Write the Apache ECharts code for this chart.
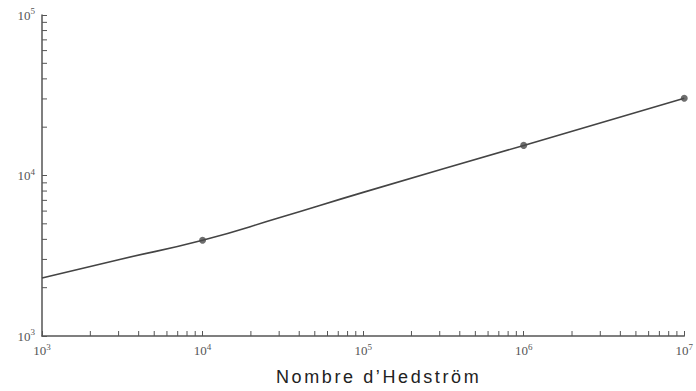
<!DOCTYPE html>
<html>
<head>
<meta charset="utf-8">
<script src="https://cdn.jsdelivr.net/npm/echarts@6/dist/echarts.min.js"></script>
<style>
  html, body { margin: 0; padding: 0; background: #fff; }
  #chart { width: 696px; height: 391px; }
</style>
</head>
<body>
<div id="chart"></div>
<script>
// Curve versus Hedström number (log-log)
const curveX = [1000, 3000, 10000, 30000, 100000, 1000000, 10000000];
const curveY = [2300, 2990, 3950, 5450, 7850, 15400, 30300];

// Marked points on the curve
const markX = [10000, 1000000, 10000000];
const markY = [3950, 15400, 30300];

// Decade exponents used for the axis labels
const xDecades = [3, 4, 5, 6, 7];
const yDecades = [3, 4, 5];

const axisTitle = 'Nombre d\u2019Hedstr\u00f6m';

// Intermediate (minor) tick positions inside each decade
const xMinor = [];
for (let d = xDecades[0]; d < xDecades[xDecades.length - 1]; d++) for (let m = 2; m <= 9; m++) xMinor.push(m * Math.pow(10, d));
const yMinor = [];
for (let d = yDecades[0]; d < yDecades[yDecades.length - 1]; d++) for (let m = 2; m <= 9; m++) yMinor.push(m * Math.pow(10, d));

const axisColor = '#555';
const labelRich = {
  b: { fontFamily: 'Liberation Serif', fontSize: 13, color: '#555' },
  s: { fontFamily: 'Liberation Serif', fontSize: 9, color: '#555', padding: [0, 0, 8, 0] }
};
function decadeLabel(v) {
  const e = Math.round(Math.log10(v));
  return '{b|10}{s|' + e + '}';
}

const chart = echarts.init(document.getElementById('chart'), null, { renderer: 'svg' });
chart.setOption({
  backgroundColor: '#fff',
  animation: false,
  grid: { left: 42, right: 7, top: 15, bottom: 55 },
  xAxis: {
    type: 'log', logBase: 10,
    min: Math.pow(10, xDecades[0]), max: Math.pow(10, xDecades[xDecades.length - 1]),
    name: axisTitle,
    nameLocation: 'middle', nameGap: 32,
    nameTextStyle: { fontFamily: 'Liberation Sans', fontSize: 18, color: '#222', padding: [0, 0, 0, 31] },
    axisLine: { lineStyle: { color: axisColor, width: 1.5 } },
    axisTick: { inside: true, length: 5, lineStyle: { color: axisColor, width: 1 } },
    axisLabel: { formatter: decadeLabel, rich: labelRich, margin: 6 },
    splitLine: { show: false }
  },
  yAxis: {
    type: 'log', logBase: 10,
    min: Math.pow(10, yDecades[0]), max: Math.pow(10, yDecades[yDecades.length - 1]),
    axisLine: { show: true, lineStyle: { color: axisColor, width: 1.5 } },
    axisTick: { show: true, inside: true, length: 5, lineStyle: { color: axisColor, width: 1 } },
    axisLabel: { formatter: decadeLabel, rich: labelRich, margin: 7 },
    splitLine: { show: false }
  },
  series: [
    {
      type: 'line',
      data: curveX.map((x, i) => [x, curveY[i]]),
      smooth: 0.5,
      showSymbol: false,
      lineStyle: { color: '#444', width: 1.6 },
      clip: false,
      z: 3
    },
    {
      type: 'scatter',
      data: markX.map((x, i) => [x, markY[i]]),
      symbolSize: 7,
      itemStyle: { color: '#4a4a4a' },
      clip: false,
      z: 4
    },
    {
      // minor ticks along the horizontal axis
      type: 'custom',
      clip: false,
      data: xMinor.map(v => [v, Math.pow(10, yDecades[0])]),
      renderItem: function (params, api) {
        const p = api.coord([api.value(0), api.value(1)]);
        return {
          type: 'line',
          shape: { x1: p[0], y1: p[1], x2: p[0], y2: p[1] - 5 },
          style: { stroke: axisColor, lineWidth: 1 }
        };
      }
    },
    {
      // minor ticks along the vertical axis
      type: 'custom',
      clip: false,
      data: yMinor.map(v => [Math.pow(10, xDecades[0]), v]),
      renderItem: function (params, api) {
        const p = api.coord([api.value(0), api.value(1)]);
        return {
          type: 'line',
          shape: { x1: p[0], y1: p[1], x2: p[0] + 5, y2: p[1] },
          style: { stroke: axisColor, lineWidth: 1 }
        };
      }
    }
  ]
});

// Widen the tracking of the axis title
document.querySelectorAll('#chart svg text').forEach(function (t) {
  if (t.textContent === axisTitle) t.style.letterSpacing = '2.6px';
});
</script>
</body>
</html>
